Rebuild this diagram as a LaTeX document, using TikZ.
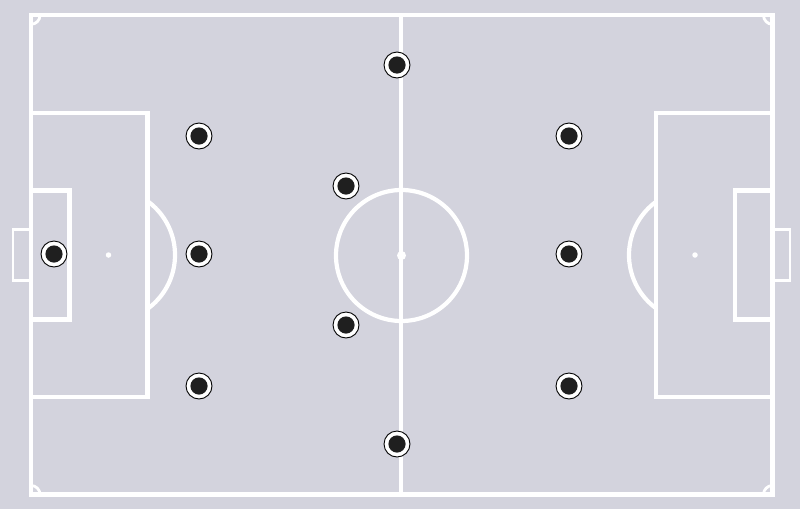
\documentclass[tikz,border=0pt]{standalone}
\begin{document}
\begin{tikzpicture}[x=1pt,y=-1pt,
  line/.style={draw=white,line width=4.2pt},
  player/.style={circle,draw=black,line width=0.9pt,fill=white,minimum size=26pt,inner sep=0pt,
    path picture={\fill[black!88] (path picture bounding box.center) circle (8.6pt);}},
  spot/.style={circle,fill=white,minimum size=5.5pt,inner sep=0pt}]
\definecolor{pitch}{RGB}{211,211,221}
\fill[pitch] (0,0) rectangle (800,509);
\useasboundingbox (0,0) rectangle (800,509);
% outline and halfway
\draw[line] (31,15.3) rectangle (772.5,494.5);
\draw[line] (401.3,15.3) -- (401.3,494.5);
\draw[line] (401.5,255.5) circle (65.5);
\node[spot,minimum size=9pt] (cs) at (401.5,255.5) {};
% left side
\draw[line] (31,113) -- (147.5,113) -- (147.5,397) -- (31,397);
\draw[line] (31,190.5) -- (69.5,190.5) -- (69.5,319.5) -- (31,319.5);
\draw[line,line width=2.6pt] (29,229.5) -- (13,229.5) -- (13,280.5) -- (29,280.5);
\node[spot] (lps) at (108.5,255) {};
\begin{scope}
\clip (148,0) rectangle (300,509);
\draw[line] (108.5,255) circle (66.5);
\end{scope}
% right side
\draw[line] (772.5,113) -- (656,113) -- (656,397) -- (772.5,397);
\draw[line] (772.5,190.5) -- (735,190.5) -- (735,319.5) -- (772.5,319.5);
\draw[line,line width=2.6pt] (774.5,229.5) -- (790,229.5) -- (790,280.5) -- (774.5,280.5);
\node[spot] (rps) at (695,255) {};
\begin{scope}
\clip (500,0) rectangle (656,509);
\draw[line] (695,255) circle (66);
\end{scope}
% corner arcs
\begin{scope}
\clip (31,15.3) rectangle (772.5,494.5);
\draw[line,line width=2.8pt] (31,15.3) circle (9);
\draw[line,line width=2.8pt] (772.5,15.3) circle (9);
\draw[line,line width=2.8pt] (31,494.5) circle (9);
\draw[line,line width=2.8pt] (772.5,494.5) circle (9);
\end{scope}
% players
\node[player] (p1) at (397,65) {};
\node[player] (p2) at (199,136) {};
\node[player] (p3) at (346,186) {};
\node[player] (p4) at (54,254) {};
\node[player] (p5) at (199,254) {};
\node[player] (p6) at (346,325) {};
\node[player] (p7) at (199,386) {};
\node[player] (p8) at (397,444) {};
\node[player] (p9) at (569,136) {};
\node[player] (p10) at (569,254) {};
\node[player] (p11) at (569,386) {};
\end{tikzpicture}
\end{document}
